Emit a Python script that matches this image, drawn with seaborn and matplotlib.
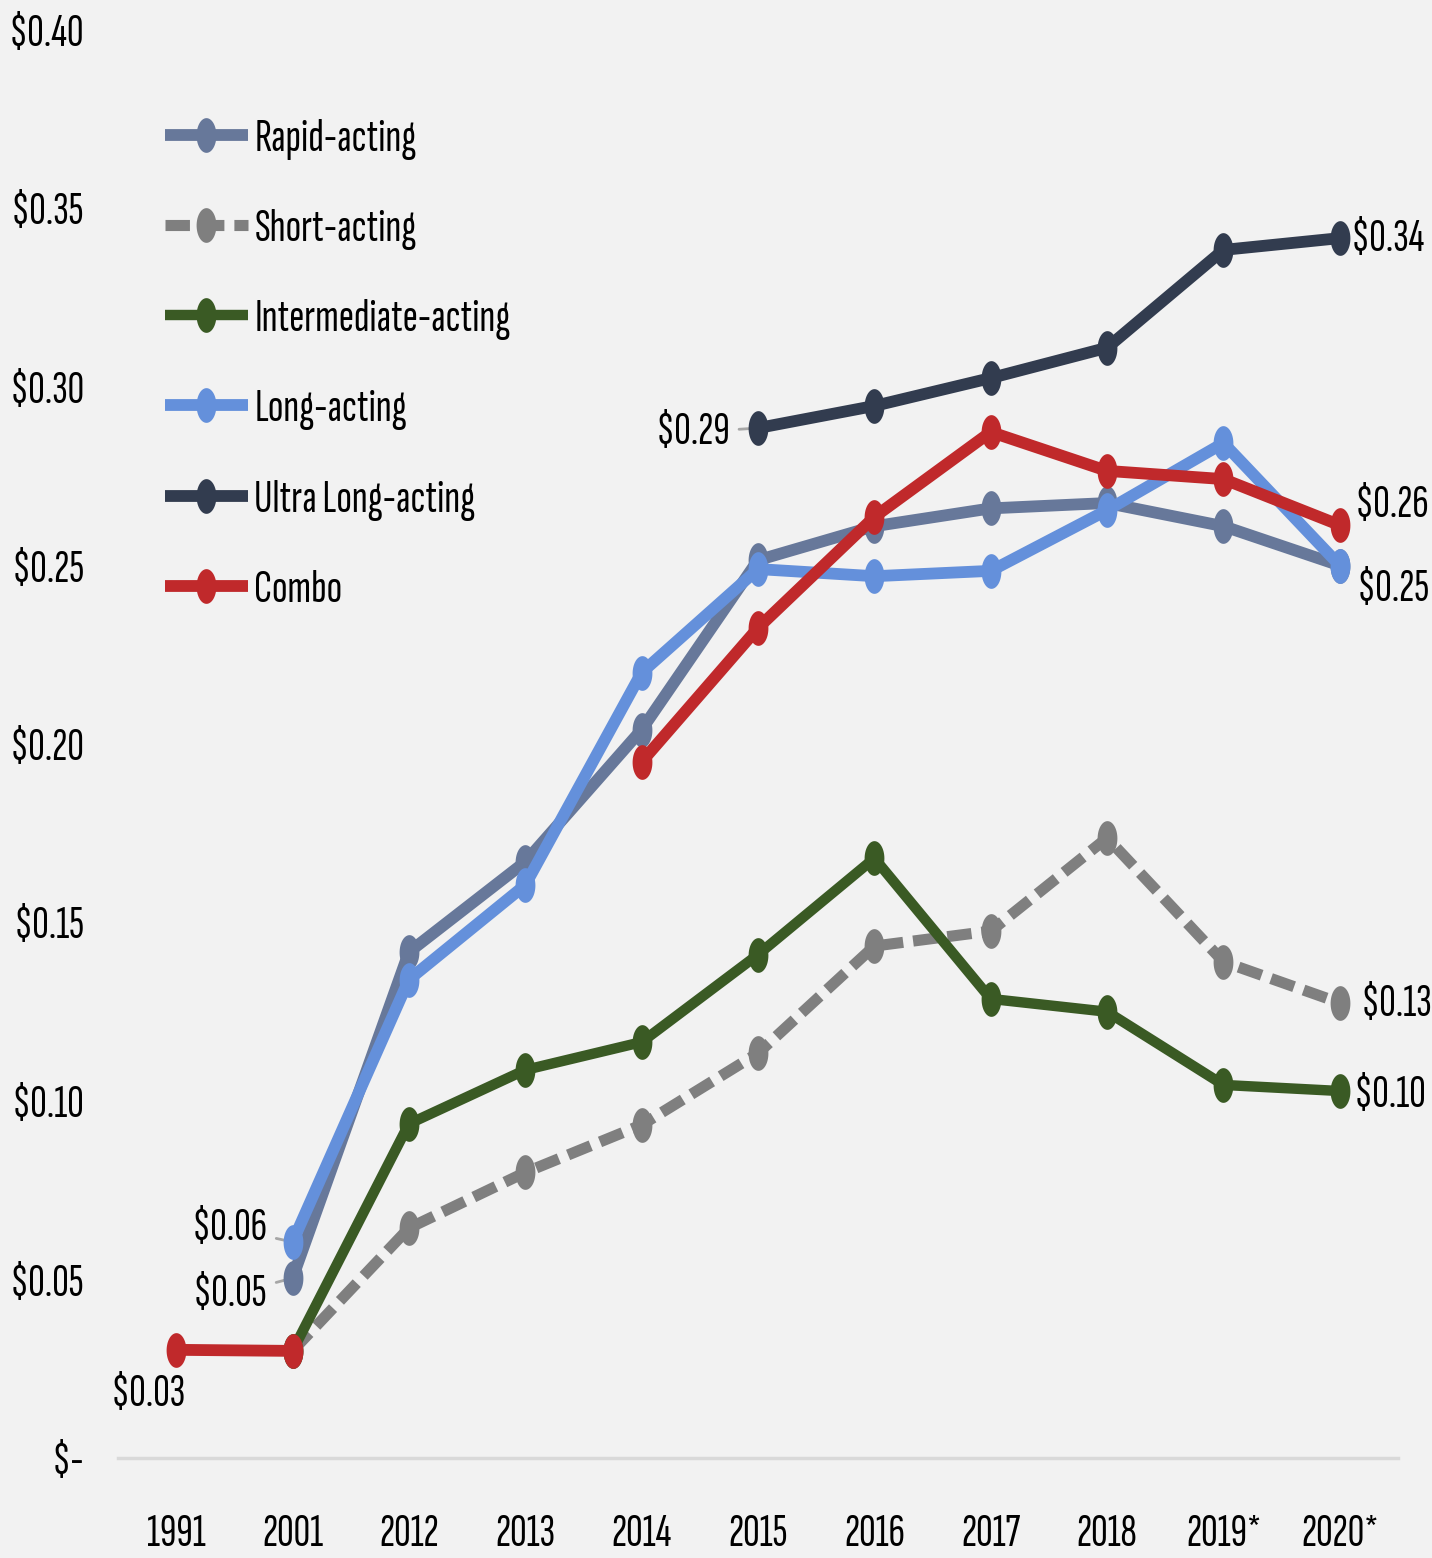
import numpy as np
import pandas as pd
import matplotlib
matplotlib.use("Agg")
import matplotlib.pyplot as plt
from matplotlib.path import Path
import seaborn as sns

# ---------------- data ----------------
years = ["1991", "2001", "2012", "2013", "2014", "2015", "2016", "2017", "2018", "2019*", "2020*"]
nan = np.nan
rapid = [nan, 0.0504, 0.1417, 0.1670, 0.2040, 0.2515, 0.2610, 0.2660, 0.2675, 0.2610, 0.2500]
short = [nan, 0.0300, 0.0644, 0.0800, 0.0933, 0.1134, 0.1434, 0.1476, 0.1737, 0.1390, 0.1275]
intermediate = [nan, 0.0300, 0.0936, 0.1087, 0.1165, 0.1410, 0.1680, 0.1286, 0.1250, 0.1045, 0.1028]
long_acting = [nan, 0.0605, 0.1340, 0.1605, 0.2200, 0.2490, 0.2470, 0.2485, 0.2655, 0.2843, 0.2500]
ultra_long = [nan, nan, nan, nan, nan, 0.2885, 0.2947, 0.3025, 0.3110, 0.3384, 0.3417]
combo = [0.0303, 0.0300, nan, nan, 0.1950, 0.2325, 0.2636, 0.2874, 0.2765, 0.2742, 0.2613]
series_names = ["Rapid-acting", "Short-acting", "Intermediate-acting", "Long-acting",
                "Ultra Long-acting", "Combo"]
series_values = [rapid, short, intermediate, long_acting, ultra_long, combo]
y_ticks = [0.0, 0.05, 0.10, 0.15, 0.20, 0.25, 0.30, 0.35, 0.40]
y_tick_labels = ["$-", "$0.05", "$0.10", "$0.15", "$0.20", "$0.25", "$0.30", "$0.35", "$0.40"]

# ---------------- style ----------------
colors = ["#67789a", "#7f7f7f", "#3a5a24", "#6490db", "#323c4f", "#c0292b"]
widths = [8.5, 8.0, 7.5, 8.5, 8.5, 8.5]
styles = ["-", (0, (2.2, 0.9)), "-", "-", "-", "-"]

sns.set_theme(style="white")
plt.rcParams["font.family"] = ["Sofia Sans Extra Condensed", "DejaVu Sans"]
plt.rcParams["text.color"] = "black"
FS = 33

bg = "#f2f2f2"
fig = plt.figure(figsize=(14.32, 15.58), dpi=100, facecolor=bg)
ax = fig.add_axes([118 / 1432, (1558 - 1458) / 1558, (1398 - 118) / 1432, (1458 - 30) / 1558])
ax.set_facecolor(bg)

t = np.linspace(0, 2 * np.pi, 60)
ellipse = Path(np.column_stack([0.57 * np.cos(t), np.sin(t)]), closed=True)

xpos = np.arange(len(years))
for name, vals, c, lw, ls in zip(series_names, series_values, colors, widths, styles):
    df = pd.DataFrame({"x": xpos, "y": vals})
    ok = df["y"].notna()
    seg = (~ok).cumsum()
    first = True
    for _, part in df[ok].groupby(seg[ok]):
        sns.lineplot(data=part, x="x", y="y", ax=ax, color=c, linewidth=lw,
                     linestyle=ls, marker=ellipse, markersize=25, markeredgewidth=0,
                     label=name if first else None, legend=False, errorbar=None,
                     solid_capstyle="butt")
        first = False

# ---------------- annotations ----------------
# (series index, point index, dx pt, dy pt, ha, leader)
notes = [
    (5, 0, -20, -32, "center", False),
    (3, 1, -18, 10, "right", True),
    (0, 1, -18, -12, "right", True),
    (4, 5, -20, -3, "right", True),
    (4, 10, 8, -1, "left", False),
    (5, 10, 11, 14, "left", False),
    (3, 10, 12, -17, "left", False),
    (1, 10, 15, -1, "left", False),
    (2, 10, 10, -3, "left", False),
]
for si, pi, dx, dy, ha, leader in notes:
    v = series_values[si][pi]
    kw = {}
    if leader:
        kw["arrowprops"] = dict(arrowstyle="-", color="#a6a6a6", lw=2,
                                shrinkA=4, shrinkB=0)
    ax.annotate(f"${v:.2f}", xy=(xpos[pi], v), xytext=(dx, dy),
                textcoords="offset points", ha=ha, va="center",
                fontsize=FS, color="black", zorder=1.5, **kw)

# ---------------- axes ----------------
ax.set_xlim(-0.5, len(years) - 0.5)
ax.set_ylim(0, 0.40)
ax.set_xticks(xpos)
ax.set_xticklabels(years, fontsize=FS)
ax.set_yticks(y_ticks)
ax.set_yticklabels(y_tick_labels, fontsize=FS)
ax.tick_params(axis="x", length=0, pad=40, labelcolor="black")
ax.tick_params(axis="y", length=0, pad=24, labelcolor="black")
ax.set_xlabel("")
ax.set_ylabel("")
for s in ["top", "right", "left"]:
    ax.spines[s].set_visible(False)
ax.spines["bottom"].set_color("#d9d9d9")
ax.spines["bottom"].set_linewidth(2.5)
ax.grid(False)

handles, labels = ax.get_legend_handles_labels()
leg = ax.legend(handles, labels, loc="upper left",
                bbox_to_anchor=(165 / 1432, (1558 - 119) / 1558),
                bbox_transform=fig.transFigure, frameon=False, fontsize=FS,
                handlelength=1.8, handletextpad=0.15, labelspacing=1.07,
                borderpad=0, borderaxespad=0, numpoints=1)

fig.savefig("out.png", dpi=100, facecolor=bg)
